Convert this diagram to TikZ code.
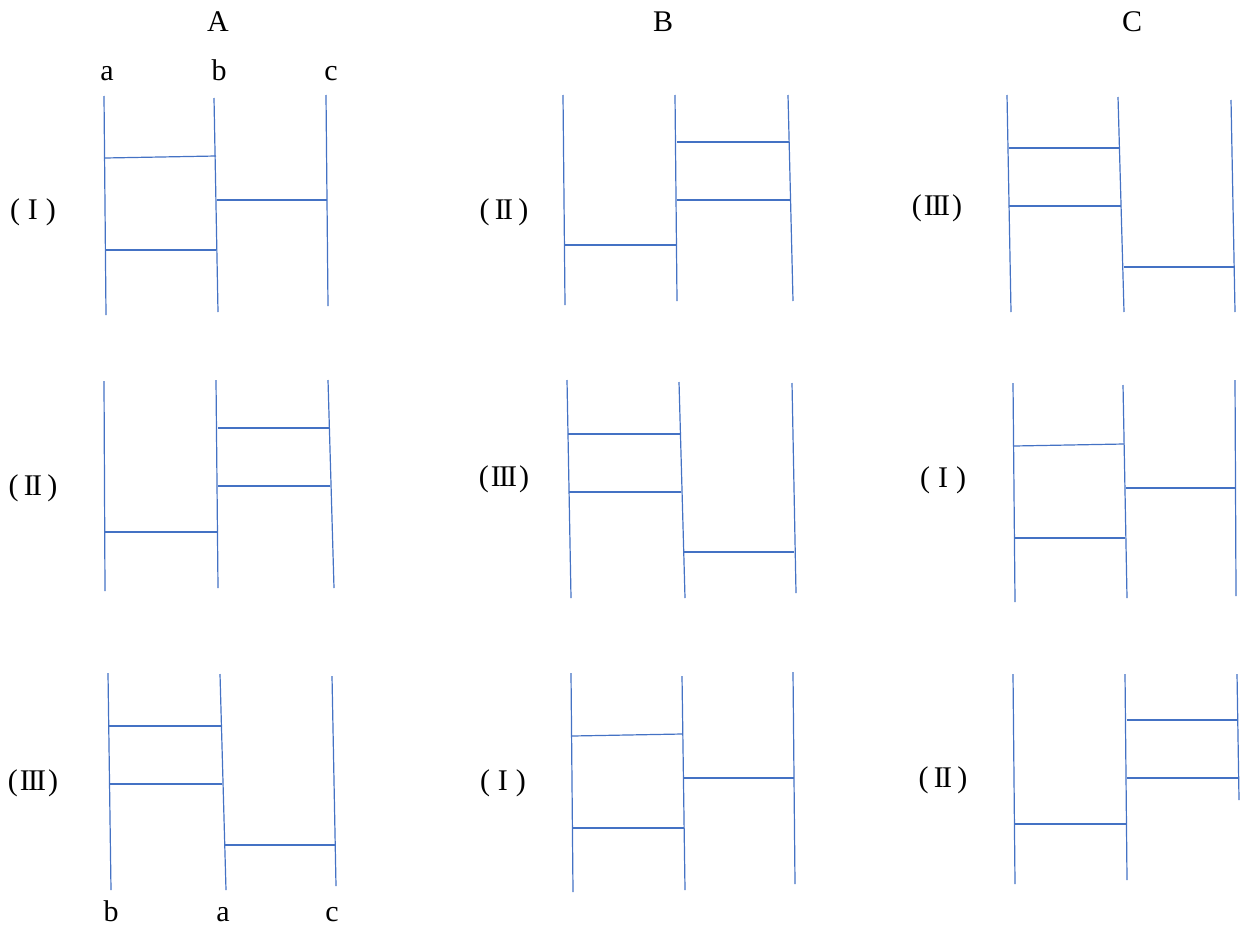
\documentclass[tikz,border=0pt]{standalone}
\usepackage{fontspec}
\setmainfont{Liberation Serif}
\definecolor{lineblue}{RGB}{68,114,196}
\newcommand{\RomOne}{(\kern4pt I\kern4pt)}
\newcommand{\RomTwo}{(\kern2.6pt I\kern-0.06em I\kern2.6pt)}
\newcommand{\RomThree}{(\kern1pt I\kern-0.06em I\kern-0.06em I\kern1pt)}
\begin{document}
\begin{tikzpicture}[x=0.5pt,y=-0.5pt,
  rail/.style={draw=lineblue,line width=0.6pt},
  lbl/.style={font=\fontsize{15}{17}\selectfont,inner sep=0pt,anchor=base},
  tag/.style={font=\fontsize{15}{17}\selectfont,inner sep=0pt,anchor=center}]
\useasboundingbox (0,0) rectangle (1240,926);
% headings
\node[lbl] (hA) at (218,32) {A};
\node[lbl] (hB) at (663,32) {B};
\node[lbl] (hC) at (1132,32) {C};
\node[lbl] (ta) at (107,80) {a};
\node[lbl] (tb) at (219,80) {b};
\node[lbl] (tc) at (331,80) {c};
\node[lbl] (ba) at (111,921) {b};
\node[lbl] (bb) at (223,921) {a};
\node[lbl] (bc) at (332,921) {c};
% row labels
\node[tag] (r11) at (33,212) {\RomOne};
\node[tag] (r12) at (504,212) {\RomTwo};
\node[tag] (r13) at (937,208) {\RomThree};
\node[tag] (r21) at (33,488) {\RomTwo};
\node[tag] (r22) at (504,479) {\RomThree};
\node[tag] (r23) at (943,480) {\RomOne};
\node[tag] (r31) at (33,783) {\RomThree};
\node[tag] (r32) at (503,783) {\RomOne};
\node[tag] (r33) at (943,780) {\RomTwo};
% ---- Row 1, A (I)
\draw[rail] (104,96) -- (106,315);
\draw[rail] (214,98) -- (218,312);
\draw[rail] (326,95) -- (328,306);
\draw[rail] (105,158) -- (216,156);
\draw[rail] (105,250) -- (216,250);
\draw[rail] (217,200) -- (327,200);
% ---- Row 1, B (II)
\draw[rail] (563,95) -- (565,305);
\draw[rail] (675,95) -- (677,301);
\draw[rail] (788,95) -- (793,301);
\draw[rail] (677,142) -- (789,142);
\draw[rail] (677,200) -- (790,200);
\draw[rail] (565,245) -- (677,245);
% ---- Row 1, C (III)
\draw[rail] (1007,95) -- (1011,312);
\draw[rail] (1118,97) -- (1124,312);
\draw[rail] (1231,100) -- (1235,312);
\draw[rail] (1009,148) -- (1120,148);
\draw[rail] (1009,206) -- (1121,206);
\draw[rail] (1124,267) -- (1234,267);
% ---- Row 2, A (II)
\draw[rail] (104,381) -- (105,591);
\draw[rail] (216,380) -- (218,588);
\draw[rail] (328,380) -- (334,588);
\draw[rail] (218,428) -- (329,428);
\draw[rail] (218,486) -- (330,486);
\draw[rail] (105,532) -- (217,532);
% ---- Row 2, B (III)
\draw[rail] (567,380) -- (571,598);
\draw[rail] (679,382) -- (685,598);
\draw[rail] (792,383) -- (796,593);
\draw[rail] (568,434) -- (680,434);
\draw[rail] (569,492) -- (681,492);
\draw[rail] (683,552) -- (794,552);
% ---- Row 2, C (I)
\draw[rail] (1013,383) -- (1015,602);
\draw[rail] (1123,385) -- (1127,598);
\draw[rail] (1235,380) -- (1236,596);
\draw[rail] (1014,446) -- (1124,444);
\draw[rail] (1015,538) -- (1125,538);
\draw[rail] (1126,488) -- (1235,488);
% ---- Row 3, A (III)
\draw[rail] (108,673) -- (111,890);
\draw[rail] (220,674) -- (226,890);
\draw[rail] (332,676) -- (336,886);
\draw[rail] (109,726) -- (221,726);
\draw[rail] (110,784) -- (222,784);
\draw[rail] (225,845) -- (335,845);
% ---- Row 3, B (I)
\draw[rail] (571,673) -- (573,892);
\draw[rail] (682,676) -- (685,890);
\draw[rail] (793,672) -- (795,884);
\draw[rail] (572,736) -- (682,734);
\draw[rail] (573,828) -- (684,828);
\draw[rail] (684,778) -- (794,778);
% ---- Row 3, C (II)
\draw[rail] (1013,674) -- (1015,884);
\draw[rail] (1125,674) -- (1127,880);
\draw[rail] (1237,674) -- (1239,800);
\draw[rail] (1127,720) -- (1238,720);
\draw[rail] (1127,778) -- (1239,778);
\draw[rail] (1014,824) -- (1126,824);
\end{tikzpicture}
\end{document}
